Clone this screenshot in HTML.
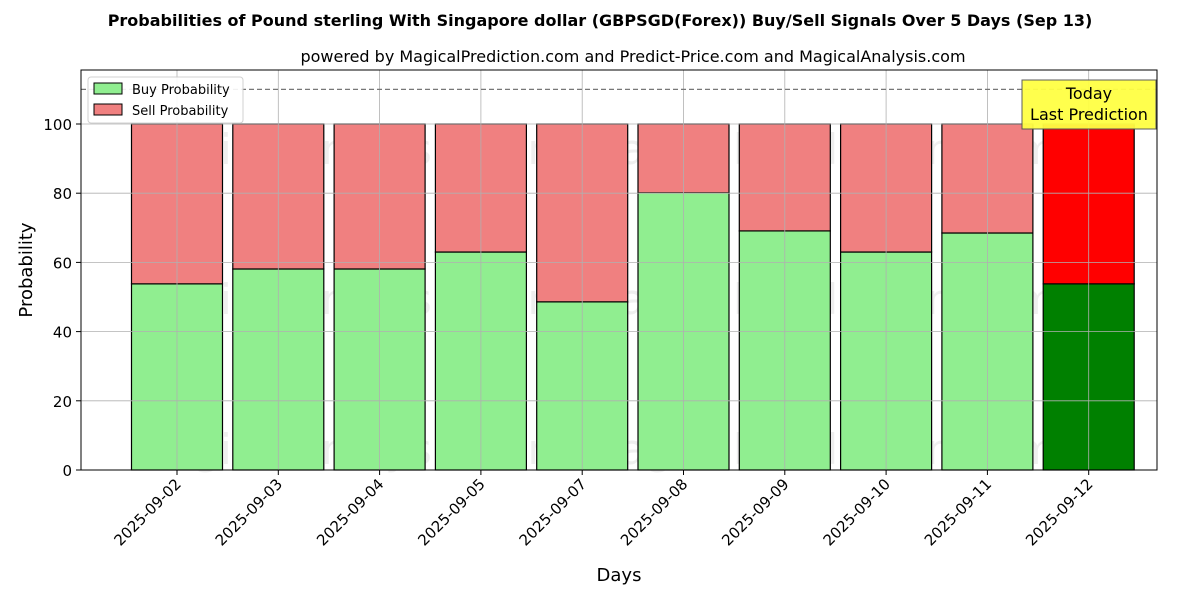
<!DOCTYPE html>
<html><head><meta charset="utf-8"><style>
body{margin:0;background:#fff;font-family:"Liberation Sans","DejaVu Sans",sans-serif;}
svg text{font-family:"DejaVu Sans","Liberation Sans",sans-serif;}
</style></head><body>
<svg id="c" width="1200" height="600" xmlns="http://www.w3.org/2000/svg">
<text x="600" y="26" text-anchor="middle" font-size="16" font-weight="bold">Probabilities of Pound sterling With Singapore dollar (GBPSGD(Forex)) Buy/Sell Signals Over 5 Days (Sep 13)</text>
<text x="633" y="62" text-anchor="middle" font-size="16">powered by MagicalPrediction.com and Predict-Price.com and MagicalAnalysis.com</text>
<g id="plot"></g>
</svg>
<script>
const categories=["2025-09-02","2025-09-03","2025-09-04","2025-09-05","2025-09-07","2025-09-08","2025-09-09","2025-09-10","2025-09-11","2025-09-12"];
const buyValues=[53.8,58.1,58.1,63.0,48.6,80.1,69.1,63.0,68.5,53.8];
const sellValues=buyValues.map(v=>100-v);
const yTicks=[0,20,40,60,80,100];
const L=81,R=1157,T=70,B=470;
const y=v=>B-v*3.46;
const x=i=>177+i*101.3;
const bw=91;
const g=document.getElementById('plot');
const NS="http://www.w3.org/2000/svg";
function mk(t,a,txt){const e=document.createElementNS(NS,t);for(const k in a)e.setAttribute(k,a[k]);if(txt!==undefined)e.textContent=txt;g.appendChild(e);return e;}
// watermarks
[[350,150,"MagicalAnalysis.com"],[820,150,"MagicalPrediction.com"],[350,300,"MagicalAnalysis.com"],[820,300,"MagicalPrediction.com"],[350,450,"MagicalAnalysis.com"],[820,450,"MagicalPrediction.com"]].forEach(w=>{
const e=mk('text',{x:w[0],y:w[1]+14,'text-anchor':'middle','font-size':42,fill:'rgba(120,120,120,0.12)'},w[2]);

});
categories.forEach((c,i)=>{
const today=i===categories.length-1;
const b=mk('rect',{x:x(i)-bw/2,y:y(buyValues[i]),width:bw,height:B-y(buyValues[i]),fill:today?'#008000':'#90ee90',stroke:'#000','stroke-width':1.2});


const s=mk('rect',{x:x(i)-bw/2,y:y(100),width:bw,height:y(buyValues[i])-y(100),fill:today?'#ff0000':'#f08080',stroke:'#000','stroke-width':1.2});


});
// grid
categories.forEach((c,i)=>{
const l=mk('line',{x1:x(i),x2:x(i),y1:T,y2:B,stroke:'#b0b0b0','stroke-width':0.8});


mk('line',{x1:x(i),x2:x(i),y1:B,y2:B+5,stroke:'#000'});
const t=mk('text',{x:0,y:0,'font-size':15,'text-anchor':'end',transform:`translate(${x(i)+5},${B+15}) rotate(-45)`},c);


});
yTicks.forEach(v=>{
const l=mk('line',{x1:L,x2:R,y1:y(v),y2:y(v),stroke:'#b0b0b0','stroke-width':0.8});


mk('line',{x1:L-5,x2:L,y1:y(v),y2:y(v),stroke:'#000'});
const t=mk('text',{x:L-9,y:y(v)+6,'font-size':15,'text-anchor':'end'},v);


});
const d=mk('line',{x1:L,x2:R,y1:y(110),y2:y(110),stroke:'#777','stroke-dasharray':'5,3','stroke-width':1.2});


const fr=mk('rect',{x:L,y:T,width:R-L,height:B-T,fill:'none',stroke:'#000','stroke-width':1});


// today annotation
const tb=mk('rect',{x:1022,y:80,width:134,height:49,fill:'#ffff44',stroke:'#555','stroke-width':1,opacity:0.95});


mk('text',{x:1089,y:99,'text-anchor':'middle','font-size':16},'Today');
mk('text',{x:1089,y:120,'text-anchor':'middle','font-size':16},'Last Prediction');
// legend
const lg=mk('rect',{x:88,y:77,width:155,height:46,fill:'#fff',stroke:'#ccc',rx:3,opacity:0.9});


const l1=mk('rect',{x:94,y:83,width:28,height:11,fill:'#90ee90',stroke:'#000'});


mk('text',{x:132,y:94,'font-size':13},'Buy Probability');
const l2=mk('rect',{x:94,y:104,width:28,height:11,fill:'#f08080',stroke:'#000'});


mk('text',{x:132,y:115,'font-size':13},'Sell Probability');
const xt=mk('text',{x:619,y:581,'text-anchor':'middle','font-size':18},'Days');


const yt=mk('text',{x:0,y:0,'text-anchor':'middle','font-size':18,transform:'translate(32,270) rotate(-90)'},'Probability');


</script>
</body></html>
